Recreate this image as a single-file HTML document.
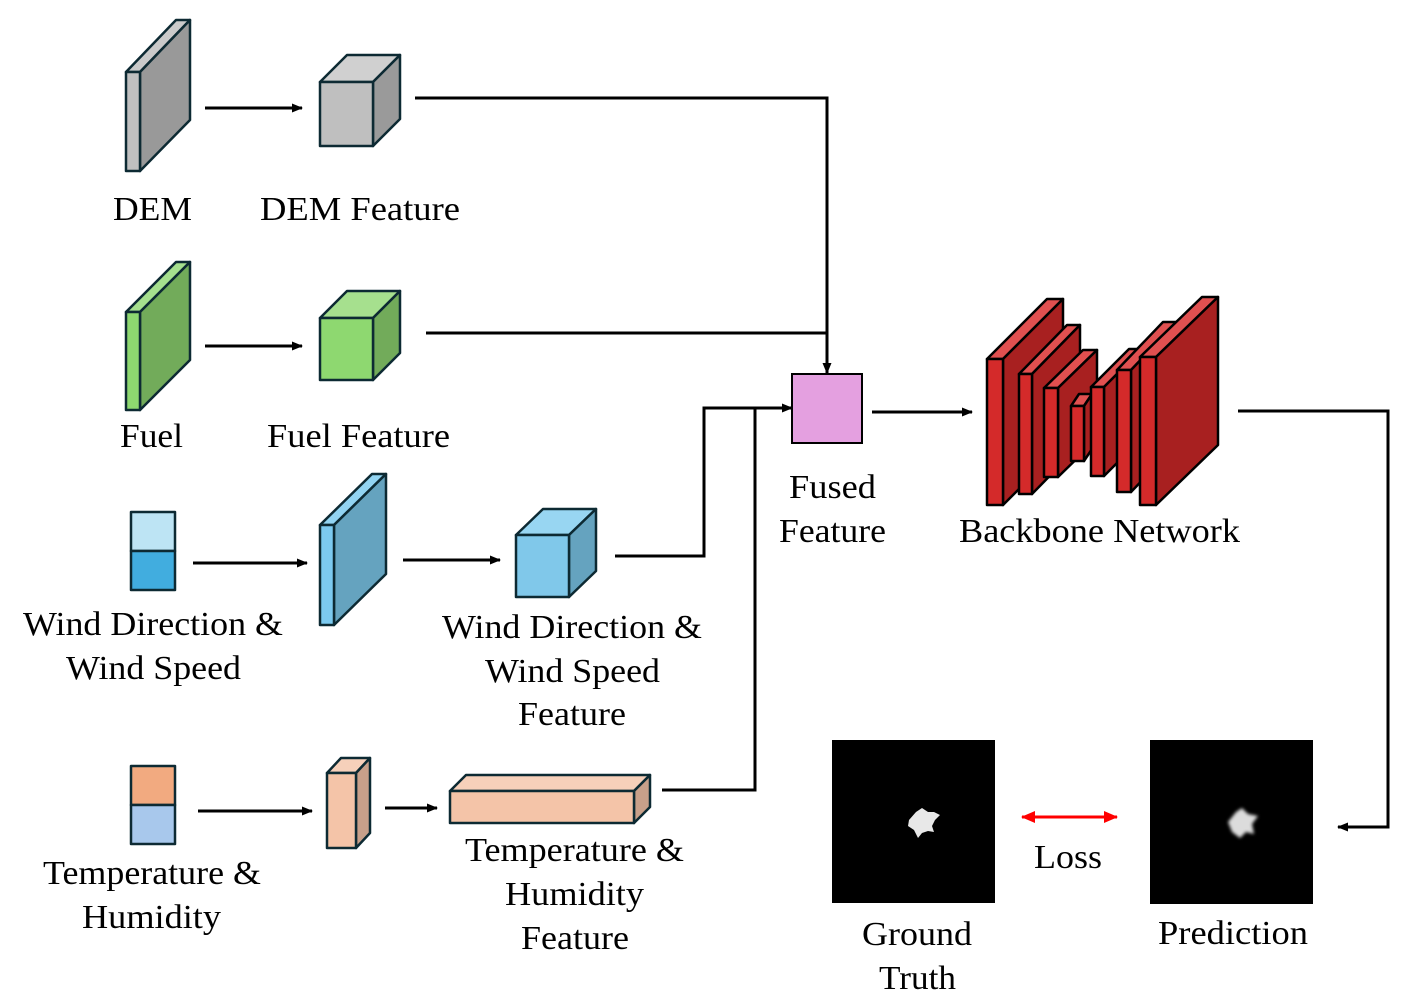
<!DOCTYPE html>
<html><head><meta charset="utf-8"><style>html,body{margin:0;padding:0;background:#fff}svg{display:block}
.t{font-family:"Liberation Serif","Times New Roman",Times,serif;font-size:34px;fill:#000}</style></head>
<body>
<svg width="1410" height="1003" viewBox="0 0 1410 1003" xmlns="http://www.w3.org/2000/svg">
<defs>
<marker id="ah" markerWidth="11" markerHeight="10" refX="10" refY="5" orient="auto" markerUnits="userSpaceOnUse"><path d="M0,0.5 L11,5 L0,9.5 z" fill="#000"/></marker>
<marker id="rh" markerWidth="14" markerHeight="12" refX="13" refY="6" orient="auto" markerUnits="userSpaceOnUse"><path d="M0,0 L14,6 L0,12 z" fill="#f00"/></marker>
<marker id="rt" markerWidth="14" markerHeight="12" refX="1" refY="6" orient="auto" markerUnits="userSpaceOnUse"><path d="M14,0 L0,6 L14,12 z" fill="#f00"/></marker>
</defs>
<g stroke="#0d2a33" stroke-width="2.5" stroke-linejoin="round">
<polygon points="126,72 176,20 190,20 140,72" fill="#cacaca"/>
<polygon points="140,72 190,20 190,120 140,171" fill="#999"/>
<rect x="126" y="72" width="14" height="99" fill="#c0c0c0"/>
<polygon points="320,82 347,55 400,55 373,82" fill="#d0d0d0"/>
<polygon points="373,82 400,55 400,119 373,146" fill="#9a9a9a"/>
<rect x="320" y="82" width="53" height="64" fill="#bfbfbf"/>
<polygon points="126,312 176,262 190,262 140,312" fill="#a6e08e"/>
<polygon points="140,312 190,262 190,360 140,410" fill="#72ab5a"/>
<rect x="126" y="312" width="14" height="98" fill="#8ed870"/>
<polygon points="320,318 347,291 400,291 373,318" fill="#a6e08e"/>
<polygon points="373,318 400,291 400,353 373,380" fill="#72ab5a"/>
<rect x="320" y="318" width="53" height="62" fill="#8ed870"/>
<rect x="131" y="512" width="44" height="39" fill="#bde4f4"/>
<rect x="131" y="551" width="44" height="39" fill="#41addf"/>
<polygon points="320,525 372,474 386,474 334,525" fill="#92d4f2"/>
<polygon points="334,525 386,474 386,574 334,625" fill="#65a3bf"/>
<rect x="320" y="525" width="14" height="100" fill="#7ccaf0"/>
<polygon points="516,535 543,509 596,509 569,535" fill="#98d6f2"/>
<polygon points="569,535 596,509 596,571 569,597" fill="#65a3bf"/>
<rect x="516" y="535" width="53" height="62" fill="#80c8ea"/>
<rect x="131" y="766" width="44" height="39" fill="#f2aa80"/>
<rect x="131" y="805" width="44" height="39" fill="#a8c8ec"/>
<polygon points="327,773 341,758 370,758 356,773" fill="#f6d0ba"/>
<polygon points="356,773 370,758 370,833 356,848" fill="#c8a08a"/>
<rect x="327" y="773" width="29" height="75" fill="#f4c4a8"/>
<polygon points="450,791 466,775 650,775 634,791" fill="#f6d0ba"/>
<polygon points="634,791 650,775 650,807 634,823" fill="#c8a08a"/>
<rect x="450" y="791" width="184" height="32" fill="#f4c4a8"/>
</g>
<rect x="792" y="374" width="70" height="69" fill="#e4a0e0" stroke="#000" stroke-width="2"/>
<g stroke="#000" stroke-width="2.5" stroke-linejoin="round">
<polygon points="987,359 1047,299 1063,299 1003,359" fill="#e05050"/>
<polygon points="1003,359 1063,299 1063,445 1003,505" fill="#a82020"/>
<rect x="987" y="359" width="16" height="146" fill="#d42a2a"/>
<polygon points="1019,374 1067,325 1080,325 1032,374" fill="#e05050"/>
<polygon points="1032,374 1080,325 1080,445 1032,494" fill="#a82020"/>
<rect x="1019" y="374" width="13" height="120" fill="#d42a2a"/>
<polygon points="1044,388 1083,350 1097,350 1058,388" fill="#e05050"/>
<polygon points="1058,388 1097,350 1097,439 1058,477" fill="#a82020"/>
<rect x="1044" y="388" width="14" height="89" fill="#d42a2a"/>
<polygon points="1071,406 1079,394 1092,394 1084,406" fill="#e05050"/>
<polygon points="1084,406 1092,394 1092,449 1084,461" fill="#a82020"/>
<rect x="1071" y="406" width="13" height="55" fill="#d42a2a"/>
<polygon points="1091,387 1129,349 1142,349 1104,387" fill="#e05050"/>
<polygon points="1104,387 1142,349 1142,438 1104,476" fill="#a82020"/>
<rect x="1091" y="387" width="13" height="89" fill="#d42a2a"/>
<polygon points="1117,370 1163,322 1177,322 1131,370" fill="#e05050"/>
<polygon points="1131,370 1177,322 1177,444 1131,492" fill="#a82020"/>
<rect x="1117" y="370" width="14" height="122" fill="#d42a2a"/>
<polygon points="1140,357 1202,297 1218,297 1156,357" fill="#e05050"/>
<polygon points="1156,357 1218,297 1218,445 1156,505" fill="#a82020"/>
<rect x="1140" y="357" width="16" height="148" fill="#d42a2a"/>
</g>
<rect x="832" y="740" width="163" height="163" fill="#000"/>
<path d="M909,820 L916,812 L922,808 L928,812 L934,812 L940,815 L935,820 L932,826 L934,832 L928,831 L922,833 L918,838 L914,830 L908,826 Z" fill="#e8e8e8"/>
<rect x="1150" y="740" width="163" height="164" fill="#000"/>
<path d="M1228,822 L1236,812 L1242,808 L1248,814 L1258,816 L1252,824 L1254,834 L1246,832 L1240,838 L1232,832 Z" fill="#dcdcdc" style="filter:blur(1.5px)"/>
<g stroke="#000" stroke-width="3" fill="none">
<line x1="205" y1="108" x2="302" y2="108" marker-end="url(#ah)"/>
<polyline points="415,98 827,98 827,373" marker-end="url(#ah)"/>
<line x1="205" y1="346" x2="302" y2="346" marker-end="url(#ah)"/>
<line x1="426" y1="333" x2="827" y2="333"/>
<line x1="193" y1="563" x2="307" y2="563" marker-end="url(#ah)"/>
<line x1="403" y1="560" x2="500" y2="560" marker-end="url(#ah)"/>
<polyline points="615,556 704,556 704,408 792,408" marker-end="url(#ah)"/>
<line x1="198" y1="811" x2="312" y2="811" marker-end="url(#ah)"/>
<line x1="385" y1="808" x2="437" y2="808" marker-end="url(#ah)"/>
<polyline points="662,790 755,790 755,408"/>
<line x1="872" y1="412" x2="972" y2="412" marker-end="url(#ah)"/>
<polyline points="1238,411 1388,411 1388,827 1338,827" marker-end="url(#ah)"/>
</g>
<line x1="1022" y1="817" x2="1117" y2="817" stroke="#f00" stroke-width="3" marker-start="url(#rt)" marker-end="url(#rh)"/>
<text class="t" x="113" y="220" textLength="79" lengthAdjust="spacingAndGlyphs">DEM</text>
<text class="t" x="260" y="220" textLength="200" lengthAdjust="spacingAndGlyphs">DEM Feature</text>
<text class="t" x="120" y="447" textLength="63" lengthAdjust="spacingAndGlyphs">Fuel</text>
<text class="t" x="267" y="447" textLength="183" lengthAdjust="spacingAndGlyphs">Fuel Feature</text>
<text class="t" x="23" y="635" textLength="260" lengthAdjust="spacingAndGlyphs">Wind Direction &amp;</text>
<text class="t" x="66" y="679" textLength="175" lengthAdjust="spacingAndGlyphs">Wind Speed</text>
<text class="t" x="442" y="638" textLength="260" lengthAdjust="spacingAndGlyphs">Wind Direction &amp;</text>
<text class="t" x="485" y="682" textLength="175" lengthAdjust="spacingAndGlyphs">Wind Speed</text>
<text class="t" x="518" y="725" textLength="108" lengthAdjust="spacingAndGlyphs">Feature</text>
<text class="t" x="789" y="498" textLength="87" lengthAdjust="spacingAndGlyphs">Fused</text>
<text class="t" x="779" y="542" textLength="107" lengthAdjust="spacingAndGlyphs">Feature</text>
<text class="t" x="959" y="542" textLength="281" lengthAdjust="spacingAndGlyphs">Backbone Network</text>
<text class="t" x="43" y="884" textLength="218" lengthAdjust="spacingAndGlyphs">Temperature &amp;</text>
<text class="t" x="82" y="928" textLength="139" lengthAdjust="spacingAndGlyphs">Humidity</text>
<text class="t" x="465" y="861" textLength="219" lengthAdjust="spacingAndGlyphs">Temperature &amp;</text>
<text class="t" x="505" y="905" textLength="139" lengthAdjust="spacingAndGlyphs">Humidity</text>
<text class="t" x="521" y="949" textLength="108" lengthAdjust="spacingAndGlyphs">Feature</text>
<text class="t" x="1034" y="868" textLength="68" lengthAdjust="spacingAndGlyphs">Loss</text>
<text class="t" x="862" y="945" textLength="110" lengthAdjust="spacingAndGlyphs">Ground</text>
<text class="t" x="879" y="989" textLength="77" lengthAdjust="spacingAndGlyphs">Truth</text>
<text class="t" x="1158" y="944" textLength="150" lengthAdjust="spacingAndGlyphs">Prediction</text>
</svg>
</body></html>
